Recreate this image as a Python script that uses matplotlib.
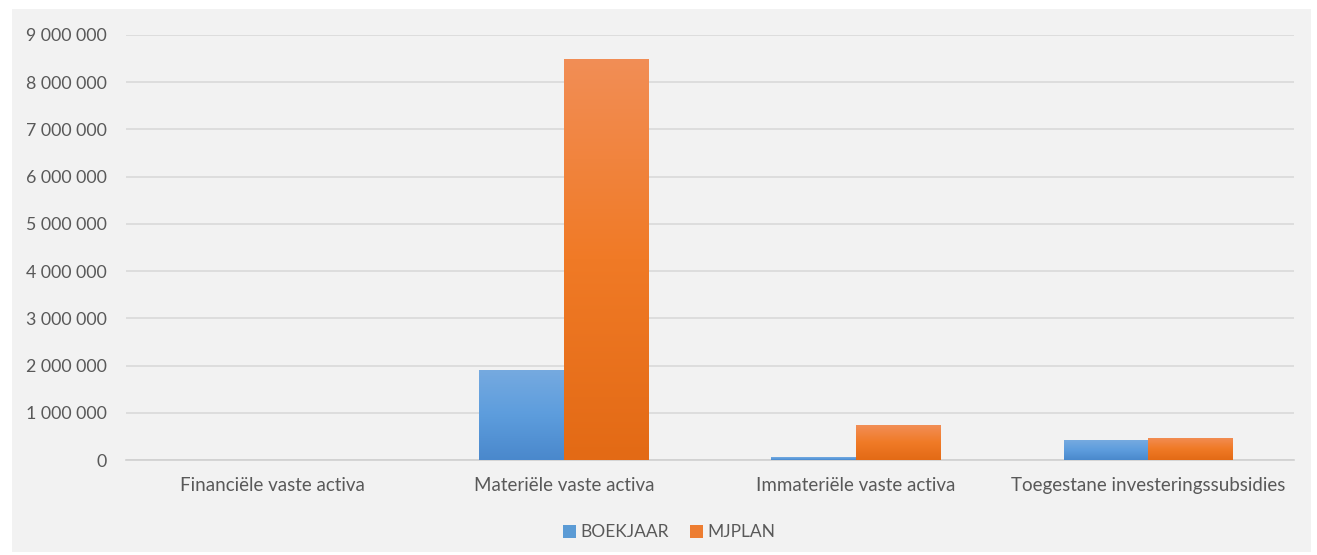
import numpy as np
import matplotlib.pyplot as plt
from matplotlib.patches import Rectangle
from matplotlib.colors import LinearSegmentedColormap

categories = ['Financiële vaste activa', 'Materiële vaste activa',
              'Immateriële vaste activa', 'Toegestane investeringssubsidies']
boekjaar = [0, 1910000, 60000, 420000]
mjplan = [0, 8490000, 740000, 470000]
yticks = np.arange(0, 9000001, 1000000)

plt.rcParams['font.family'] = ['Lato', 'DejaVu Sans']

fig = plt.figure(figsize=(13.17, 5.55), dpi=100)
fig.patch.set_facecolor('white')
fig.patches.append(Rectangle((12 / 1317, 3 / 555), 1299 / 1317, 543 / 555,
                             transform=fig.transFigure, facecolor='#f2f2f2',
                             edgecolor='none', zorder=-10))

ax = fig.add_axes([0.0957, 0.171, 0.887, 0.766])
ax.set_facecolor('none')

x = np.arange(len(categories))
w = 0.29
bars_b = ax.bar(x - w / 2, boekjaar, w, color='#5b9bd5', label='BOEKJAAR', zorder=3)
bars_m = ax.bar(x + w / 2, mjplan, w, color='#ed7d31', label='MJPLAN', zorder=3)

# vertical gradient on each bar, lighter at the top
grad = np.linspace(0, 1, 256).reshape(-1, 1)
cm_b = LinearSegmentedColormap.from_list('b', ['#4a88cc', '#5d9ddd', '#76aae0'])
cm_m = LinearSegmentedColormap.from_list('m', ['#e36a15', '#f07a26', '#f28e56'])
for bars, cm in ((bars_b, cm_b), (bars_m, cm_m)):
    for b in bars:
        h = b.get_height()
        if h <= 0:
            continue
        x0 = b.get_x()
        im = ax.imshow(grad, extent=[x0, x0 + b.get_width(), 0, h], origin='lower',
                       cmap=cm, aspect='auto', zorder=3.5)
        im.set_clip_path(b)

ax.set_xlim(-0.5, len(categories) - 0.5)
ax.set_ylim(0, 9000000)
ax.set_yticks(yticks)
ax.set_yticklabels([f'{v:,.0f}'.replace(',', ' ') for v in yticks])
ax.set_xticks(x)
ax.set_xticklabels(categories)
ax.tick_params(axis='both', length=0, colors='#595959')
ax.tick_params(axis='y', pad=14, labelsize=12.8)
ax.tick_params(axis='x', pad=12, labelsize=13.5)
ax.grid(axis='y', color='#d9d9d9', linewidth=1.2, zorder=0)
for s in ['top', 'right', 'left']:
    ax.spines[s].set_visible(False)
ax.spines['bottom'].set_color('#d0d0d0')
ax.spines['bottom'].set_linewidth(1.2)

leg = fig.legend(handles=[bars_b, bars_m], loc='center', bbox_to_anchor=(0.508, 0.041),
                 ncol=2, frameon=False, handlelength=0.75, handleheight=0.75,
                 handletextpad=0.25, columnspacing=1.2, fontsize=12.5)
for t in leg.get_texts():
    t.set_color('#595959')

fig.savefig('out.png', dpi=100, facecolor=fig.get_facecolor())
